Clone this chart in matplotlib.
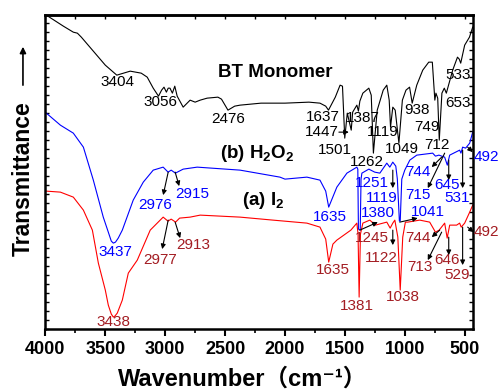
import matplotlib
matplotlib.use('Agg')
import matplotlib.pyplot as plt
from matplotlib.ticker import MultipleLocator

plt.rcParams['font.family'] = ['Liberation Sans', 'Noto Sans CJK SC', 'DejaVu Sans']
plt.rcParams['mathtext.fontset'] = 'custom'
plt.rcParams['mathtext.rm'] = 'Liberation Sans'
plt.rcParams['mathtext.bf'] = 'Liberation Sans:bold'

# FTIR spectra (transmittance, arbitrary offset units)
bt_wn = [3992, 3850, 3767, 3733, 3700, 3600, 3500, 3404, 3292, 3200, 3150, 3100, 3056, 3030, 3010,
         2990, 2975, 2960, 2940, 2920, 2900, 2850, 2792, 2750, 2708, 2650, 2560, 2530, 2476, 2420,
         2375, 2200, 2000, 1800, 1708, 1660, 1637, 1580, 1540, 1520, 1501, 1480, 1447, 1435, 1400,
         1387, 1375, 1350, 1300, 1280, 1262, 1230, 1180, 1150, 1130, 1119, 1100, 1080, 1049, 1020,
         990, 960, 938, 900, 850, 800, 770, 749, 740, 725, 712, 690, 670, 653, 630, 600, 560, 545,
         533, 500, 460, 433]
bt_t = [314, 303, 297, 296, 292, 278, 264, 254, 258, 256, 252, 241, 233, 239, 242,
        237, 241, 241, 236, 243, 233, 222, 229, 227, 229, 231, 232, 230, 219, 223,
        224, 226, 226, 227, 226, 223, 219, 232, 244, 243, 191, 216, 199, 217, 224,
        218, 228, 236, 241, 234, 176, 219, 239, 244, 229, 202, 222, 219, 186, 229,
        239, 242, 226, 244, 259, 267, 267, 229, 236, 231, 189, 236, 241, 236, 246, 259, 272, 270,
        266, 284, 292, 302]

h2o2_wn = [3992, 3875, 3767, 3683, 3600, 3517, 3475, 3450, 3433, 3415, 3392, 3358, 3267, 3183,
           3100, 3017, 2976, 2950, 2915, 2850, 2733, 2375, 2042, 2000, 1817, 1708, 1660, 1635,
           1567, 1483, 1400, 1392, 1387, 1372, 1365, 1358, 1300, 1251, 1208, 1150, 1125, 1100,
           1075, 1062, 1045, 1038, 1025, 1000, 958, 900, 767, 744, 715, 667, 645, 625, 542, 531,
           517, 492, 458, 433]
h2o2_t = [216, 204, 196, 182, 149, 112, 97, 88, 86, 87, 91, 99, 129, 147,
          159, 162, 157, 159, 156, 160, 162, 159, 152, 150, 152, 149, 138, 122,
          142, 156, 162, 160, 100, 99, 150, 156, 160, 157, 156, 166, 162, 167,
          163, 150, 108, 108, 150, 159, 169, 174, 176, 173, 174, 172, 164, 174, 179, 176,
          182, 181, 186, 197]

i2_wn = [3992, 3875, 3767, 3683, 3608, 3558, 3500, 3475, 3450, 3433, 3420, 3400, 3358, 3308,
         3233, 3125, 3100, 3017, 2977, 2950, 2913, 2880, 2792, 2708, 2375, 2100, 1817, 1708,
         1660, 1635, 1600, 1567, 1450, 1400, 1390, 1381, 1370, 1350, 1292, 1245, 1150, 1122,
         1100, 1083, 1058, 1038, 1017, 995, 975, 875, 792, 744, 713, 667, 646, 625, 567, 542,
         529, 500, 458, 433]
i2_t = [138, 137, 132, 119, 99, 66, 39, 24, 15, 12, 13, 16, 29, 56,
        69, 99, 102, 112, 108, 110, 107, 111, 112, 114, 112, 109, 106, 102,
        90, 67, 85, 89, 99, 106, 95, 32, 95, 106, 109, 104, 107, 101,
        106, 109, 92, 39, 92, 107, 107, 109, 107, 97, 99, 106, 91, 104, 104, 106,
        102, 106, 117, 124]

# peak labels: (text, x, y)
bt_labels = [('3404', 3400, 247), ('3056', 3042, 227), ('2476', 2475, 210), ('1637', 1683, 212),
             ('1447', 1692, 197), ('1387', 1350, 211), ('1501', 1583, 179), ('1119', 1183, 197),
             ('1049', 1025, 180), ('1262', 1317, 167), ('938', 900, 219), ('749', 817, 202),
             ('712', 733, 184), ('653', 558, 226), ('533', 558, 254)]
h2o2_labels = [('3437', 3417, 77), ('2976', 3083, 124), ('2915', 2775, 135), ('1635', 1625, 112),
               ('1251', 1275, 146), ('1119', 1192, 131), ('1380', 1225, 116), ('1041', 808, 117),
               ('744', 892, 157), ('715', 892, 134), ('645', 650, 144), ('531', 567, 131),
               ('492', 317, 172)]
i2_labels = [('3438', 3433, 7), ('2977', 3042, 69), ('2913', 2767, 84), ('1635', 1600, 59),
             ('1381', 1400, 23), ('1038', 1017, 32), ('1245', 1275, 91), ('1122', 1192, 71),
             ('744', 892, 91), ('713', 875, 62), ('646', 650, 69), ('529', 567, 54),
             ('492', 317, 97)]

# arrows: (x0, y0) -> (x1, y1), head at the end
arrows = [((1550, 197), (1467, 197)),
          ((2975, 157), (3017, 134)), ((2917, 157), (2883, 143)),
          ((1375, 99), (1225, 107)), ((1100, 159), (1100, 141)),
          ((1042, 107), (892, 111)), ((692, 172), (775, 162)),
          ((667, 176), (808, 141)), ((633, 169), (633, 149)),
          ((517, 179), (517, 141)), ((475, 182), (433, 177)),
          ((2975, 109), (3025, 80)), ((2917, 107), (2875, 91)),
          ((1100, 99), (1100, 84)), ((708, 99), (775, 92)),
          ((692, 97), (808, 69)), ((633, 92), (633, 74)),
          ((517, 102), (517, 64)), ((475, 102), (425, 97))]

red_lab = '#A31C22'

fig = plt.figure(figsize=(4.99, 3.89), dpi=100)
ax = fig.add_axes([0.091, 0.154, 0.857, 0.807])

ax.plot(bt_wn, bt_t, color='black', lw=0.8)
ax.plot(h2o2_wn, h2o2_t, color='blue', lw=0.8)
ax.plot(i2_wn, i2_t, color='red', lw=0.8)

for s, x, y in bt_labels:
    ax.text(x, y, s, color='black', fontsize=11, ha='center', va='center')
for s, x, y in h2o2_labels:
    ax.text(x, y, s, color='blue', fontsize=11, ha='center', va='center', clip_on=False)
for s, x, y in i2_labels:
    ax.text(x, y, s, color=red_lab, fontsize=11, ha='center', va='center', clip_on=False)

for (x0, y0), (x1, y1) in arrows:
    ax.annotate('', xy=(x1, y1), xytext=(x0, y0), annotation_clip=False,
                arrowprops=dict(arrowstyle='-|>', color='black', lw=0.8,
                                mutation_scale=7, shrinkA=0, shrinkB=0))

ax.text(2083, 257, 'BT Monomer', fontsize=13.5, fontweight='bold', ha='center', va='center')
ax.text(2233, 176, r'(b) H$_\mathbf{2}$O$_\mathbf{2}$', fontsize=13.5, fontweight='bold',
        ha='center', va='center')
ax.text(2183, 129, r'(a) I$_\mathbf{2}$', fontsize=13.5, fontweight='bold', ha='center', va='center')

ax.set_xlim(4000, 430)
ax.set_ylim(0, 314)
ax.xaxis.set_major_locator(MultipleLocator(500))
ax.xaxis.set_minor_locator(MultipleLocator(250))
ax.yaxis.set_major_locator(MultipleLocator(45))
ax.yaxis.set_minor_locator(MultipleLocator(9))
ax.set_yticklabels([])
ax.tick_params(axis='x', which='major', direction='out', length=5, width=1.5, labelsize=13, pad=3.5)
ax.tick_params(axis='x', which='minor', direction='out', length=3, width=1.2)
ax.tick_params(axis='y', which='both', direction='in', left=True, right=True, length=3, width=1)
for lab in ax.get_xticklabels():
    lab.set_fontweight('bold')
for sp in ax.spines.values():
    sp.set_linewidth(1.8)

# short inward ticks along the top frame
top = ax.secondary_xaxis('top')
top.xaxis.set_major_locator(MultipleLocator(500))
top.xaxis.set_minor_locator(MultipleLocator(250))
top.tick_params(which='both', direction='in', length=3, width=1, labeltop=False)
top.spines['top'].set_linewidth(1.8)

fig.text(0.487, 0.026, 'Wavenumber（cm⁻¹）', fontsize=17, fontweight='bold', ha='center', va='center')
fig.text(0.046, 0.54, 'Transmittance', fontsize=16.5, fontweight='bold', rotation=90,
         ha='center', va='center')
fig.add_artist(matplotlib.patches.FancyArrowPatch((0.046, 0.774), (0.046, 0.887),
                                                  transform=fig.transFigure, arrowstyle='-|>',
                                                  mutation_scale=9, lw=1.2, color='black'))

plt.savefig('out.png', dpi=100)
